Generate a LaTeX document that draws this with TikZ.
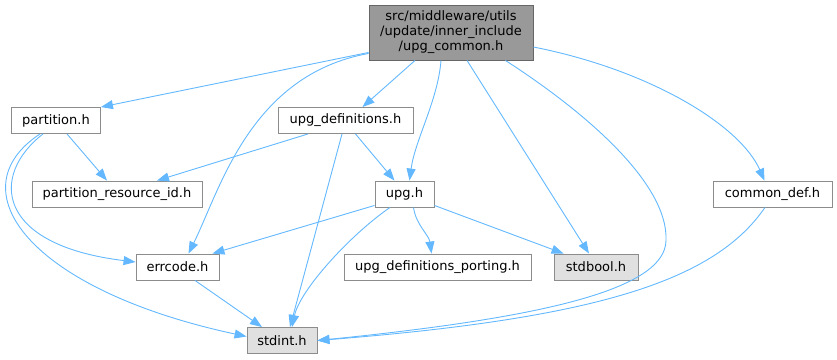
\documentclass[tikz,border=0pt]{standalone}
\usepackage{fontspec}
\setmainfont{DejaVu Sans}
\usepackage{xcolor}
\usetikzlibrary{arrows.meta, positioning, calc}

\definecolor{edgeblue}{HTML}{63B8FF}
\definecolor{boxgray}{HTML}{8C8C8C}
\definecolor{topgray}{HTML}{999999}
\definecolor{sysgray}{HTML}{E0E0E0}

\begin{document}
\begin{tikzpicture}[
  x=1pt, y=-1pt,
  hdr/.style={
    rectangle, draw=boxgray, fill=white, line width=0.9pt,
    minimum height=26pt, inner sep=0pt, align=center,
    font=\fontsize{13}{15}\selectfont},
  tophdr/.style={hdr, draw=black!60, fill=topgray, minimum height=55pt},
  syshdr/.style={hdr, fill=sysgray},
  inc/.style={-{Triangle[length=12pt, width=9pt]}, line width=0.9pt, edgeblue}
]
\useasboundingbox (0,0) rectangle (837,359);
% ── Root ──
\node[tophdr, minimum width=164pt] (common) at (451,32.5)
  {src/middleware/utils\\/update/inner\_include\\/upg\_common.h};
% ── Rank 1 ──
\node[hdr, minimum width=89pt]  (part)   at (56,120.5)    {partition.h};
\node[hdr, minimum width=135pt] (upgdef) at (345.5,120.5) {upg\_definitions.h};
% ── Rank 2 ──
\node[hdr, minimum width=170pt] (partres)   at (117,194)   {partition\_resource\_id.h};
\node[hdr, minimum width=59pt]  (upg)       at (404.5,194) {upg.h};
\node[hdr, minimum width=119pt] (commondef) at (772.5,194) {common\_def.h};
% ── Rank 3 ──
\node[hdr, minimum width=83pt]    (errcode) at (177.5,267) {errcode.h};
\node[hdr, minimum width=187pt]   (porting) at (437.5,267) {upg\_definitions\_porting.h};
\node[syshdr, minimum width=84pt] (stdbool) at (596,267)   {stdbool.h};
% ── Rank 4 ──
\node[syshdr, minimum width=70pt] (stdint) at (282,340.5) {stdint.h};
% ── Includes of upg_common.h ──
\draw[inc] ([yshift=8pt]common.south west) -- (part.north east);
\draw[inc] ([yshift=7pt]common.south west) .. controls (250,75) and (220,190)
  .. ([xshift=11pt]errcode.north);
\draw[inc] ([xshift=-36pt]common.south) -- ([xshift=17pt]upgdef.north);
\draw[inc] ([xshift=-10pt]common.south) .. controls (438,100) and (415,140)
  .. ([xshift=5pt]upg.north);
\draw[inc] ([xshift=16pt]common.south) -- ([xshift=-7pt]stdbool.north);
\draw[inc] ([xshift=-28pt]common.south east) .. controls (590,115) and (668,185)
  .. (666,240) .. controls (666,290) and (540,318) .. (stdint.east);
\draw[inc] ([yshift=-14.5pt]common.east) .. controls (650,70) and (740,125)
  .. ([xshift=-8pt]commondef.north);
% ── Includes of partition.h ──
\draw[inc] ([xshift=11pt]part.south) -- ([xshift=-10pt]partres.north);
\draw[inc] ([xshift=-13pt]part.south) .. controls (-10,175) and (-5,245)
  .. ([yshift=5pt]errcode.west);
\draw[inc] ([xshift=-16pt]part.south) .. controls (-45,190) and (30,290)
  .. ([yshift=4pt]stdint.west);
% ── Includes of upg_definitions.h ──
\draw[inc] ([xshift=-37.5pt]upgdef.south) -- ([xshift=40pt]partres.north);
\draw[inc] ([xshift=10pt]upgdef.south) -- ([xshift=-10pt]upg.north);
\draw[inc] ([xshift=-3.5pt]upgdef.south) -- ([xshift=8pt]stdint.north);
% ── Includes of upg.h ──
\draw[inc] ([yshift=2pt]upg.south west) -- ([xshift=-7pt]errcode.north east);
\draw[inc] ([xshift=-14.5pt]upg.south) .. controls (350,235) and (300,290)
  .. ([xshift=10pt]stdint.north);
\draw[inc] ([xshift=9pt]upg.south) .. controls (416,225) and (429,235)
  .. ([xshift=-6pt]porting.north);
\draw[inc] ([yshift=2pt]upg.south east) -- ([xshift=10pt]stdbool.north west);
% ── Other includes ──
\draw[inc] ([xshift=17.5pt]errcode.south) -- ([xshift=-20pt]stdint.north);
\draw[inc] ([xshift=-7.5pt]commondef.south) .. controls (715,280) and (600,318)
  .. (stdint.east);
\end{tikzpicture}
\end{document}
